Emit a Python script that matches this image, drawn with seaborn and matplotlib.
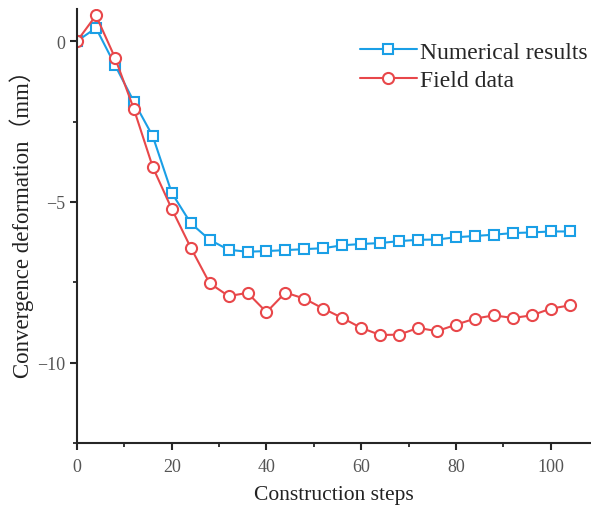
import numpy as np
import pandas as pd
import seaborn as sns
import matplotlib.pyplot as plt

steps = [0, 4, 8, 12, 16, 20, 24, 28, 32, 36, 40, 44, 48, 52, 56, 60, 64, 68,
         72, 76, 80, 84, 88, 92, 96, 100, 104]
numerical = [0.0, 0.41, -0.74, -1.88, -2.96, -4.72, -5.66, -6.18, -6.49, -6.55,
             -6.53, -6.50, -6.47, -6.44, -6.35, -6.31, -6.28, -6.22, -6.18, -6.17,
             -6.10, -6.06, -6.02, -5.97, -5.95, -5.92, -5.92]
field = [0.0, 0.80, -0.51, -2.11, -3.92, -5.22, -6.42, -7.53, -7.93, -7.83,
         -8.43, -7.82, -8.01, -8.32, -8.61, -8.92, -9.14, -9.13, -8.92, -9.02,
         -8.82, -8.63, -8.53, -8.61, -8.53, -8.32, -8.22]

df = pd.DataFrame({'step': steps, 'Numerical results': numerical, 'Field data': field})

sns.set_style("ticks")
plt.rcParams['font.family'] = ['Liberation Serif', 'Noto Sans CJK SC']

fig = plt.figure(figsize=(5.91, 5.10), dpi=100)
ax = fig.add_axes([0.1303, 0.1294, 0.8697, 0.851])

sns.lineplot(data=df, x='step', y='Numerical results', ax=ax, color='#1a9fe6',
             marker='s', markersize=7, markerfacecolor='white', markeredgecolor='#1a9fe6',
             markeredgewidth=1.5, linewidth=1.5, label='Numerical results')
sns.lineplot(data=df, x='step', y='Field data', ax=ax, color='#e8474a',
             marker='o', markersize=8, markerfacecolor='white', markeredgecolor='#e8474a',
             markeredgewidth=1.5, linewidth=1.5, label='Field data')

ax.set_xlim(0, 108.5)
ax.set_ylim(-12.5, 1.0)
ax.set_xticks([0, 20, 40, 60, 80, 100])
ax.set_xticks([10, 30, 50, 70, 90], minor=True)
ax.set_yticks([0, -5, -10])
ax.set_yticklabels(['0', '\u22125', '\u221210'])
ax.set_yticks([-2.5, -7.5, -12.5], minor=True)
ax.tick_params(which='major', direction='out', length=5, width=1.5, labelsize=13,
               labelcolor='#555555')
ax.tick_params(axis='x', which='major', pad=6)
ax.tick_params(which='minor', direction='out', length=3, width=1.3)

for s in ['left', 'bottom']:
    ax.spines[s].set_linewidth(1.5)
for s in ['top', 'right']:
    ax.spines[s].set_visible(False)

ax.set_xlabel('Construction steps', fontsize=15.5, color='#222222', labelpad=7)
ax.set_ylabel('Convergence deformation\uff08mm\uff09', fontsize=16.5, color='#222222')
ax.yaxis.set_label_coords(-0.084, 0.52)

ax.legend(loc='upper right', bbox_to_anchor=(1.035, 0.975), frameon=False, fontsize=17,
          handlelength=2.4, handletextpad=0.15, labelspacing=0.3)

fig.savefig('out.png', dpi=100)
